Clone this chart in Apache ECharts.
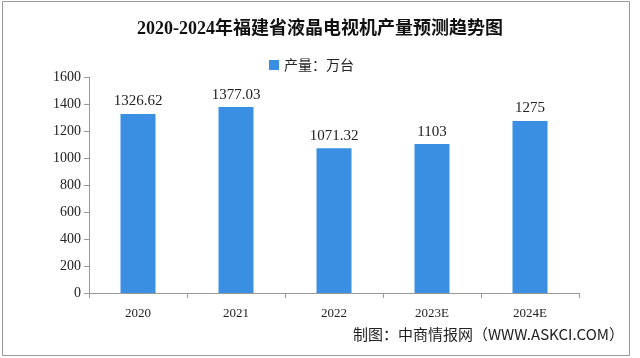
<!DOCTYPE html>
<html><head><meta charset="utf-8">
<script src="https://cdn.jsdelivr.net/npm/echarts@6/dist/echarts.min.js"></script>
<style>html,body{margin:0;padding:0;background:#fff}#c{width:640px;height:358px}</style>
</head><body><div id="c"></div>
<script>
const categories = ['2020', '2021', '2022', '2023E', '2024E'];
const production = [1326.62, 1377.03, 1071.32, 1103, 1275];
const yTicks = [0, 200, 400, 600, 800, 1000, 1200, 1400, 1600];
const seriesName = '产量：万台';
const titleText = '2020-2024年福建省液晶电视机产量预测趋势图';
const sourceText = '制图：中商情报网（WWW.ASKCI.COM）';

const chart = echarts.init(document.getElementById('c'), null, {renderer: 'canvas'});
const serif = '"Liberation Serif", "Noto Sans CJK SC", serif';
chart.setOption({
  animation: false,
  backgroundColor: '#fff',
  title: {
    text: titleText, left: 'center', top: 15,
    textStyle: {fontFamily: '"Liberation Serif", "Noto Sans CJK SC"', fontWeight: 'bold', fontSize: 18, color: '#111'}
  },
  legend: {
    data: [seriesName], left: 264, top: 53,
    itemWidth: 10, itemHeight: 10, icon: 'rect', itemGap: 4,
    textStyle: {fontFamily: '"Noto Sans CJK SC"', fontSize: 14, color: '#222'}
  },
  grid: {left: 89, right: 61, top: 77, bottom: 65, containLabel: false},
  xAxis: {
    type: 'category', data: categories,
    axisLine: {lineStyle: {color: '#999'}},
    axisTick: {show: true, alignWithLabel: false, length: 5, lineStyle: {color: '#999'}},
    axisLabel: {fontFamily: serif, fontSize: 13, color: '#222', margin: 14}
  },
  yAxis: {
    type: 'value', min: yTicks[0], max: yTicks[yTicks.length - 1], interval: yTicks[1] - yTicks[0],
    splitLine: {show: false},
    axisLine: {show: true, lineStyle: {color: '#999'}},
    axisTick: {show: true, length: 5, lineStyle: {color: '#999'}},
    axisLabel: {fontFamily: serif, fontSize: 14, color: '#222', margin: 8, formatter: v => String(v)}
  },
  series: [{
    name: seriesName, type: 'bar', data: production, barWidth: 35,
    itemStyle: {color: '#3b8fe3'},
    label: {show: true, position: 'top', distance: 5, fontFamily: serif, fontSize: 15, color: '#222'}
  }],
  graphic: [
    {type: 'rect', shape: {x: 2.5, y: 1.5, width: 627, height: 354}, style: {fill: 'none', stroke: '#999', lineWidth: 1}, silent: true},
    {type: 'text', right: 16, top: 327, style: {text: sourceText, font: '15px "Noto Sans CJK SC"', fill: '#222'}}
  ]
});
</script></body></html>
